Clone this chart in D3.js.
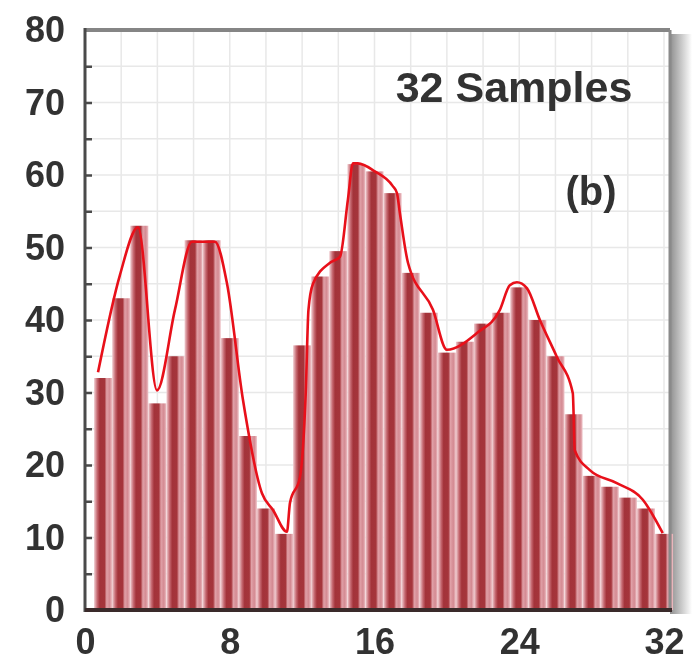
<!DOCTYPE html>
<html>
<head>
<meta charset="utf-8">
<script src="https://cdn.jsdelivr.net/npm/d3@7"></script>
<style>
  body { margin: 0; background: #fff; }
  svg { display: block; }
  text { font-family: "Liberation Sans", Arial, sans-serif; font-weight: bold; fill: #333; }
</style>
</head>
<body>
<div id="chart"></div>
<script>
// Bar heights, samples 1..32
const barValues = [32, 43, 53, 28.5, 35, 51, 51, 37.5, 24, 14, 10.5, 36.5, 46, 49.5, 61.5, 60.5,
                   57.5, 46.5, 41, 35.5, 37, 39.5, 41, 44.5, 40, 35, 27, 18.5, 17, 15.5, 14, 10.5];

// Red envelope line (sample position, value)
const lineSamples = [0.72, 1.93, 2.93, 3.98, 4.97, 5.91, 7.18, 7.85, 8.73, 9.78, 10.39, 11.16, 11.33, 11.88,
                     12.2, 12.35, 12.6, 13.54, 14.09, 14.53, 14.81, 15.08, 16.02, 17.0, 17.24, 17.4, 17.85,
                     19.23, 20.0, 21.66, 22.93, 23.48, 23.87, 24.42, 25.14, 26.08, 26.96, 27.07, 27.9,
                     29.39, 30.83, 31.93];
const lineValues = [32.8, 46.2, 52.8, 30.3, 41.4, 50.8, 50.8, 45, 29, 16.1, 13.8, 10.8, 14.8, 18.3,
                    30, 41.4, 45, 47.9, 48.7, 56.6, 61.6, 61.6, 60.5, 58.5, 57.5, 54.8, 47.9,
                    41.4, 35.9, 38.2, 41.4, 44.8, 45.2, 44.4, 40, 34.9, 29.9, 22, 19.3,
                    17.5, 15.2, 10.6];

const xTickValues = [0, 8, 16, 24, 32];
const yTickValues = [0, 10, 20, 30, 40, 50, 60, 70, 80];
const titleText = "32 Samples";
const panelText = "(b)";

const width = 696, height = 664;
const plot = { left: 85, right: 670, top: 30, bottom: 610 };

const x = d3.scaleLinear().domain([0, 32]).range([85, 664]);
const y = d3.scaleLinear().domain([0, 80]).range([plot.bottom, plot.top]);

const svg = d3.select("#chart").append("svg")
    .attr("width", width)
    .attr("height", height);

const defs = svg.append("defs");

// bar shading: pale edge, dark red core, pink highlight
const barGrad = defs.append("linearGradient").attr("id", "barGrad")
    .attr("x1", "0%").attr("x2", "100%");
[["0%", "#f1d0d4"], ["18%", "#c56870"], ["32%", "#a3333a"], ["58%", "#a5353b"],
 ["70%", "#e0a0a7"], ["86%", "#d48a92"], ["100%", "#eec2c7"]]
    .forEach(([o, c]) => barGrad.append("stop").attr("offset", o).attr("stop-color", c));

const shadowGrad = defs.append("linearGradient").attr("id", "shadowGrad")
    .attr("x1", "0%").attr("x2", "100%");
shadowGrad.append("stop").attr("offset", "0%").attr("stop-color", "#8f8f8f");
shadowGrad.append("stop").attr("offset", "100%").attr("stop-color", "#ffffff");

defs.append("filter").attr("id", "soft")
    .append("feGaussianBlur").attr("stdDeviation", 0.7);

// drop shadow on the right of the frame
svg.append("rect")
    .attr("x", plot.right).attr("y", plot.top + 4)
    .attr("width", 22).attr("height", plot.bottom - plot.top)
    .attr("fill", "url(#shadowGrad)");

// grid
const grid = svg.append("g").attr("stroke", "#e8e8e8").attr("stroke-width", 1.5);
grid.selectAll(".gx")
    .data(d3.range(0, 33, 2))
    .join("line")
    .attr("x1", d => x(d)).attr("x2", d => x(d))
    .attr("y1", plot.top).attr("y2", plot.bottom);
grid.selectAll(".gy")
    .data(d3.range(0, 81, 5))
    .join("line")
    .attr("x1", plot.left).attr("x2", plot.right)
    .attr("y1", d => y(d)).attr("y2", d => y(d));

// bars
const bw = x(1) - x(0);
svg.append("g")
    .selectAll("rect")
    .data(barValues)
    .join("rect")
    .attr("x", (d, i) => x(i + 1) - bw / 2)
    .attr("y", d => y(d))
    .attr("width", bw)
    .attr("height", d => y(0) - y(d))
    .attr("fill", "url(#barGrad)");

// envelope line
const line = d3.line()
    .x((d, i) => x(lineSamples[i]))
    .y(d => y(d))
    .curve(d3.curveMonotoneX);

svg.append("path")
    .datum(lineValues)
    .attr("fill", "none")
    .attr("stroke", "#e8101a")
    .attr("stroke-width", 2.6)
    .attr("stroke-linejoin", "round")
    .attr("d", line);

// frame: grey top/right, dark left/bottom
svg.append("line")
    .attr("x1", plot.left).attr("x2", plot.right)
    .attr("y1", plot.top).attr("y2", plot.top)
    .attr("stroke", "#858585").attr("stroke-width", 4);
svg.append("line")
    .attr("x1", plot.right).attr("x2", plot.right)
    .attr("y1", plot.top).attr("y2", plot.bottom)
    .attr("stroke", "#8a8a8a").attr("stroke-width", 3);
svg.append("line")
    .attr("x1", plot.left).attr("x2", plot.left)
    .attr("y1", plot.top - 2).attr("y2", plot.bottom + 2)
    .attr("stroke", "#4a4a4a").attr("stroke-width", 3);
svg.append("line")
    .attr("x1", plot.left).attr("x2", plot.right + 2)
    .attr("y1", plot.bottom).attr("y2", plot.bottom)
    .attr("stroke", "#3a2a2a").attr("stroke-width", 4);

// inward tick marks on the y axis
svg.append("g")
    .attr("transform", `translate(${plot.left},0)`)
    .call(d3.axisRight(y).tickValues(d3.range(5, 80, 5)).tickSize(7).tickFormat(""))
    .call(g => g.select(".domain").remove())
    .call(g => g.selectAll("line").attr("stroke", "#4a4a4a").attr("stroke-width", 2.5));

// y labels
svg.append("g")
    .attr("transform", `translate(${plot.left},0)`)
    .call(d3.axisLeft(y).tickValues(yTickValues).tickSize(0).tickPadding(20))
    .call(g => g.select(".domain").remove())
    .call(g => g.selectAll("text")
        .attr("font-size", 36).attr("fill", "#333")
        .attr("font-family", "'Liberation Sans', Arial, sans-serif")
        .attr("font-weight", "bold")
        .attr("filter", "url(#soft)"));

// x labels
svg.append("g")
    .attr("transform", `translate(0,${plot.bottom})`)
    .call(d3.axisBottom(x).tickValues(xTickValues).tickSize(0).tickPadding(18))
    .call(g => g.select(".domain").remove())
    .call(g => g.selectAll("text")
        .attr("font-size", 36).attr("fill", "#333")
        .attr("font-family", "'Liberation Sans', Arial, sans-serif")
        .attr("font-weight", "bold")
        .attr("filter", "url(#soft)"));

// annotations
svg.append("text")
    .attr("x", 514).attr("y", 102)
    .attr("text-anchor", "middle")
    .attr("font-size", 43)
    .attr("filter", "url(#soft)")
    .text(titleText);

svg.append("text")
    .attr("x", 591).attr("y", 205)
    .attr("text-anchor", "middle")
    .attr("font-size", 40)
    .attr("filter", "url(#soft)")
    .text(panelText);
</script>
</body>
</html>
